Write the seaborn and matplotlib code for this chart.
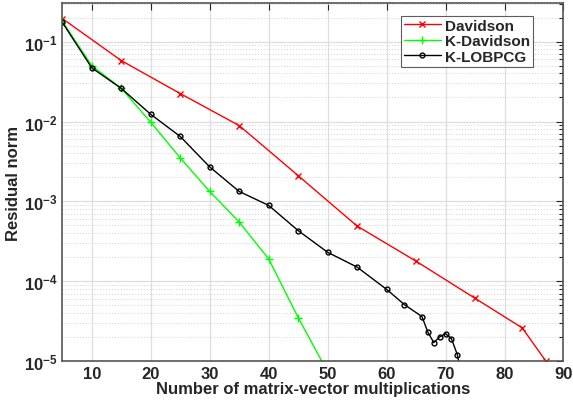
import numpy as np
import pandas as pd
import matplotlib
matplotlib.use("Agg")
import matplotlib.pyplot as plt
import seaborn as sns
from matplotlib.ticker import LogLocator, LogFormatterMathtext, NullFormatter

# INPUT
dav_x = [5, 15, 25, 35, 45, 55, 65, 75, 83, 87]
dav_y = [0.195, 0.058, 0.0224, 0.0089, 0.0021, 4.9e-4, 1.78e-4, 6.1e-5, 2.6e-5, 1.0e-5]

kdav_x = [5, 10, 15, 20, 25, 30, 35, 40, 45, 50]
kdav_y = [0.18, 0.05, 0.026, 0.0098, 0.0035, 0.00133, 5.5e-4, 1.9e-4, 3.5e-5, 7.3e-6]

klob_x = [5, 10, 15, 20, 25, 30, 35, 40, 45, 50, 55, 60, 63, 66, 67, 68, 69, 70, 71, 72, 73]
klob_y = [0.175, 0.047, 0.026, 0.0123, 0.0065, 0.0027, 0.00133, 8.9e-4, 4.3e-4, 2.3e-4,
          1.5e-4, 7.9e-5, 5.1e-5, 3.6e-5, 2.3e-5, 1.7e-5, 2.0e-5, 2.2e-5, 1.9e-5, 1.2e-5, 5e-6]

series = [("Davidson", dav_x, dav_y, "#ff0000", "x", 4.5),
          ("K-Davidson", kdav_x, kdav_y, "#00ff00", "+", 6),
          ("K-LOBPCG", klob_x, klob_y, "#000000", "o", 3.5)]

sns.set_style("white")
plt.rcParams['font.family'] = ['Liberation Sans', 'DejaVu Sans']
plt.rcParams['font.weight'] = 'bold'
plt.rcParams['mathtext.fontset'] = 'custom'
plt.rcParams['mathtext.rm'] = 'Liberation Sans:bold'
plt.rcParams['mathtext.bf'] = 'Liberation Sans:bold'
plt.rcParams['mathtext.default'] = 'bf'

fig = plt.figure(figsize=(5.73, 4.02), dpi=100)
ax = fig.add_axes([0.1087, 0.0995, 0.8747, 0.8905])

for name, xs, ys, col, mk, ms in series:
    df = pd.DataFrame({"x": xs, "y": ys})
    sns.lineplot(data=df, x="x", y="y", ax=ax, color=col, marker=mk, markersize=ms,
                 markeredgecolor=col, markerfacecolor="none", markeredgewidth=1.0,
                 linewidth=1.0, label=name, estimator=None, sort=False)

ax.set_yscale("log")
ax.set_xlim(5, 90)
ax.set_ylim(1e-5, 0.305)
ax.set_xticks(range(10, 91, 10))
ax.yaxis.set_major_locator(LogLocator(base=10, numticks=10))
ax.yaxis.set_major_formatter(LogFormatterMathtext())
ax.yaxis.set_minor_locator(LogLocator(base=10, subs=np.arange(2, 10), numticks=20))
ax.yaxis.set_minor_formatter(NullFormatter())

ax.grid(True, which="major", color="#dedede", linewidth=0.9)
ax.grid(True, which="minor", axis="y", color="#d0d0d0", linestyle=(0, (1, 2)), linewidth=0.7)
ax.set_axisbelow(True)

for s in ax.spines.values():
    s.set_color("#555555")
    s.set_linewidth(1.2)
ax.tick_params(which="both", direction="in", top=True, right=True, colors="#262626",
               labelsize=12, length=5, width=0.8)
ax.tick_params(which="minor", length=3)
for lbl in ax.get_xticklabels() + ax.get_yticklabels():
    lbl.set_fontweight("bold")

ax.set_xlabel("Number of matrix-vector multiplications", fontsize=12, fontweight="bold", labelpad=0)
ax.set_ylabel("Residual norm", fontsize=12, fontweight="bold", labelpad=2)

leg = ax.legend(loc="upper right", bbox_to_anchor=(0.94, 0.965), fontsize=11,
                frameon=True, fancybox=False, edgecolor="#333333", handlelength=2.4,
                borderpad=0.2, labelspacing=0.1, handletextpad=0.3, borderaxespad=0)
leg.get_frame().set_linewidth(0.8)
for t in leg.get_texts():
    t.set_fontweight("bold")

fig.savefig("out.png", dpi=100)
